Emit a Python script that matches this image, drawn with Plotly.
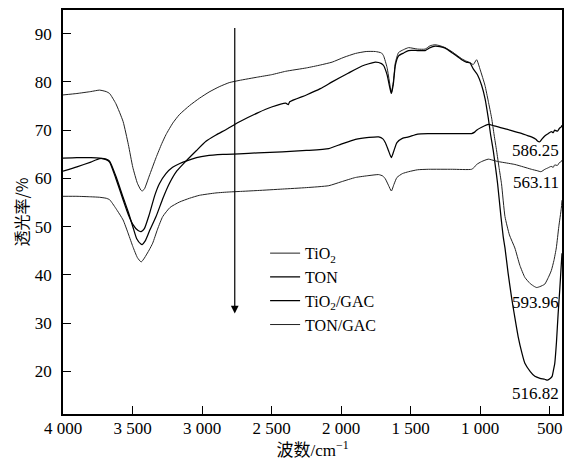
import plotly.graph_objects as go

# ---------------- data ----------------
tio2_x = [4000, 3900, 3800, 3737, 3690, 3665, 3620, 3568, 3530, 3498, 3465, 3440, 3431, 3415, 3380,
          3331, 3290, 3259, 3210, 3164, 3090, 3020, 2950, 2877, 2805, 2734, 2600, 2500, 2399, 2250,
          2150, 2065, 1980, 1897, 1820, 1754, 1710, 1695, 1670, 1650, 1639, 1625, 1610, 1587, 1550,
          1515, 1450, 1396, 1360, 1324, 1290, 1252, 1200, 1133, 1100, 1073, 1050, 1026, 1000, 966,
          942, 918, 900, 882, 865, 847, 822, 790, 751, 715, 679, 640, 610, 594, 570, 536, 510, 489,
          470, 453, 435, 417, 412]
tio2_y = [77.3, 77.6, 78.0, 78.3, 78.0, 77.6, 75.5, 71.8, 67.0, 62.3, 59.0, 57.6, 57.4, 57.8, 60.5,
          64.3, 67.2, 69.1, 71.5, 73.2, 75.1, 76.6, 77.9, 79.0, 79.85, 80.3, 81.0, 81.5, 82.2, 82.9,
          83.5, 84.1, 85.1, 85.9, 86.3, 86.3, 86.0, 85.4, 83.0, 79.5, 77.8, 80.0, 84.0, 86.1, 86.7,
          87.1, 86.8, 86.8, 87.5, 87.7, 87.5, 87.1, 86.2, 84.8, 84.3, 84.0, 83.6, 84.6, 82.5, 79.3,
          76.0, 72.5, 69.0, 65.7, 62.3, 58.9, 52.1, 48.3, 45.6, 42.0, 39.5, 38.2, 37.6, 37.4, 37.6,
          38.1, 39.5, 40.9, 43.0, 45.6, 50.0, 53.8, 55.5]

ton_x = [4000, 3900, 3800, 3737, 3690, 3665, 3620, 3568, 3530, 3498, 3470, 3440, 3431, 3410, 3380,
         3331, 3280, 3236, 3180, 3116, 3040, 2972, 2900, 2829, 2734, 2600, 2500, 2399, 2380, 2370,
         2250, 2150, 2065, 1950, 1850, 1754, 1710, 1695, 1670, 1650, 1639, 1625, 1610, 1587, 1550,
         1515, 1450, 1396, 1360, 1324, 1290, 1252, 1200, 1133, 1100, 1073, 1050, 1020, 990, 965,
         942, 925, 906, 890, 875, 851, 835, 822, 800, 775, 750, 727, 700, 679, 640, 607, 570, 536,
         517, 495, 483, 472, 464, 452, 440, 428, 417, 412]
ton_y = [61.5, 62.4, 63.4, 64.1, 64.0, 63.6, 60.5, 56.1, 53.0, 50.0, 47.5, 46.4, 46.3, 47.0, 49.0,
         52.1, 56.0, 58.9, 61.6, 63.6, 65.8, 67.7, 69.0, 70.1, 71.7, 73.6, 74.8, 75.6, 75.3, 75.9,
         77.3, 78.6, 80.0, 81.8, 83.3, 84.1, 83.8, 83.4, 81.5, 78.8, 77.6, 79.5, 83.5, 85.4, 86.0,
         86.5, 86.5, 86.5, 87.1, 87.4, 87.3, 87.0, 86.0, 84.6, 84.1, 83.9, 82.7, 81.5, 79.3, 76.5,
         72.5, 69.0, 65.7, 62.3, 58.9, 52.1, 48.0, 45.6, 40.5, 35.4, 31.0, 27.2, 23.8, 21.7, 20.0,
         19.0, 18.6, 18.4, 18.2, 18.6, 19.0, 20.5, 21.7, 26.0, 31.9, 37.0, 42.2, 44.5]

tio2gac_x = [4000, 3900, 3800, 3737, 3690, 3665, 3620, 3568, 3530, 3498, 3460, 3438, 3415, 3380, 3340,
             3307, 3260, 3212, 3160, 3116, 3040, 2972, 2850, 2734, 2600, 2423, 2250, 2089, 2000, 1897,
             1800, 1730, 1700, 1682, 1660, 1639, 1620, 1599, 1560, 1515, 1450, 1372, 1200, 1062, 1040,
             1026, 990, 942, 900, 871, 810, 751, 690, 632, 600, 586, 572, 555, 536, 510, 489, 475,
             465, 445, 430, 417, 412]
tio2gac_y = [64.2, 64.3, 64.3, 64.2, 63.9, 63.4, 60.0, 55.6, 52.5, 50.5, 49.2, 49.0, 49.6, 52.5, 56.5,
             58.9, 61.0, 62.3, 63.1, 63.6, 64.3, 64.7, 65.0, 65.1, 65.3, 65.5, 65.8, 66.2, 67.1, 68.1,
             68.5, 68.6, 68.2, 67.4, 65.8, 64.3, 65.8, 67.4, 68.3, 68.6, 69.2, 69.3, 69.3, 69.3, 69.6,
             70.0, 70.6, 71.2, 70.9, 70.7, 70.2, 69.7, 69.2, 68.6, 68.1, 67.7, 67.6, 68.2, 68.8, 69.3,
             69.7, 69.5, 70.0, 69.8, 70.4, 70.7, 71.0]

tongac_x = [4000, 3900, 3800, 3737, 3690, 3665, 3620, 3568, 3530, 3498, 3465, 3438, 3415, 3380, 3355,
            3320, 3283, 3230, 3164, 3090, 3020, 2900, 2805, 2734, 2600, 2423, 2250, 2089, 2000, 1897,
            1800, 1730, 1700, 1682, 1660, 1639, 1620, 1599, 1560, 1515, 1450, 1372, 1200, 1062, 1040,
            1026, 990, 942, 900, 871, 810, 751, 690, 632, 590, 563, 535, 512, 490, 475, 465, 445,
            430, 417, 412]
tongac_y = [56.3, 56.3, 56.2, 56.1, 55.9, 55.6, 53.8, 51.4, 48.5, 45.9, 43.6, 42.7, 43.5, 45.2, 46.6,
            49.5, 52.1, 54.0, 55.1, 55.9, 56.5, 57.0, 57.2, 57.3, 57.5, 57.8, 58.1, 58.5, 59.3, 60.2,
            60.6, 60.8, 60.5, 59.9, 58.6, 57.4, 58.8, 60.2, 61.0, 61.4, 61.8, 61.9, 61.9, 61.9, 62.4,
            62.9, 63.5, 64.0, 63.7, 63.5, 63.2, 62.9, 62.4, 61.9, 61.6, 61.4, 61.9, 62.2, 62.5, 62.3,
            62.8, 62.7, 63.3, 63.5, 63.8]

series_names = ["TiO<sub>2</sub>", "TON", "TiO<sub>2</sub>/GAC", "TON/GAC"]
peak_labels = ["586.25", "563.11", "593.96", "516.82"]

x_tickvals = [4000, 3500, 3000, 2500, 2000, 1500, 1000, 500]
x_ticktext = ["4 000", "3 500", "3 000", "2 500", "2 000", "1 500", "1 000", "500"]
y_tickvals = [20, 30, 40, 50, 60, 70, 80, 90]

# ---------------- figure ----------------
SERIF = "Liberation Serif, Times New Roman, Noto Sans CJK SC, serif"
CJK = "Noto Sans CJK SC, Liberation Serif, sans-serif"

fig = go.Figure()
styles = [("#222222", 1.0), ("#000000", 1.25), ("#000000", 1.25), ("#222222", 1.0)]
data = [(tio2_x, tio2_y), (ton_x, ton_y), (tio2gac_x, tio2gac_y), (tongac_x, tongac_y)]
for i, ((xs, ys), name, (col, w)) in enumerate(zip(data, series_names, styles)):
    fig.add_trace(go.Scatter(
        x=xs, y=ys, mode="lines", name=name,
        line=dict(color=col, width=w, shape="spline", smoothing=0.5),
        legendgroup=f"g{i}",
    ))

# arrow
fig.add_annotation(x=2765, y=32.0, ax=2765, ay=91.5, xref="x", yref="y", axref="x", ayref="y",
                   showarrow=True, arrowhead=2, arrowsize=1.3, arrowwidth=1.2, arrowcolor="black",
                   text="")

# peak labels
label_y = [65.8, 59.2, 34.2, 15.5]
for t, yy in zip(peak_labels, label_y):
    fig.add_annotation(x=1, xref="paper", y=yy, yref="y", text=t, showarrow=False,
                       xanchor="right", yanchor="middle", xshift=-1,
                       font=dict(family=SERIF, size=17, color="black"))

fig.update_layout(
    width=566, height=466,
    margin=dict(l=63, r=2, t=10, b=52),
    paper_bgcolor="white", plot_bgcolor="white",
    font=dict(family=SERIF, size=17, color="black"),
    showlegend=True,
    legend=dict(x=0.405, y=0.44, xanchor="left", yanchor="top",
                bgcolor="rgba(0,0,0,0)", borderwidth=0,
                font=dict(family=SERIF, size=16, color="black"),
                tracegroupgap=0, itemwidth=30),
)
fig.update_xaxes(
    range=[4000, 412], tickvals=x_tickvals, ticktext=x_ticktext,
    ticks="inside", ticklen=8, tickwidth=1, tickcolor="black",
    ticklabelstandoff=-2,
    showline=True, linecolor="black", linewidth=1.5, mirror=True,
    showgrid=False, zeroline=False,
    title=dict(text="波数/cm<sup>−1</sup>", standoff=6, font=dict(family=SERIF, size=17)),
)
fig.update_yaxes(
    range=[11.2, 94.9], tickvals=y_tickvals,
    ticks="inside", ticklen=8, tickwidth=1, tickcolor="black",
    ticklabelstandoff=6,
    showline=True, linecolor="black", linewidth=1.5, mirror=True,
    showgrid=False, zeroline=False,
    title=dict(text="透光率/%", standoff=2, font=dict(family=CJK, size=16)),
)

fig.write_html("out.html", config={"displayModeBar": False},
               post_script="document.body.style.margin='0';document.body.style.padding='0';")
